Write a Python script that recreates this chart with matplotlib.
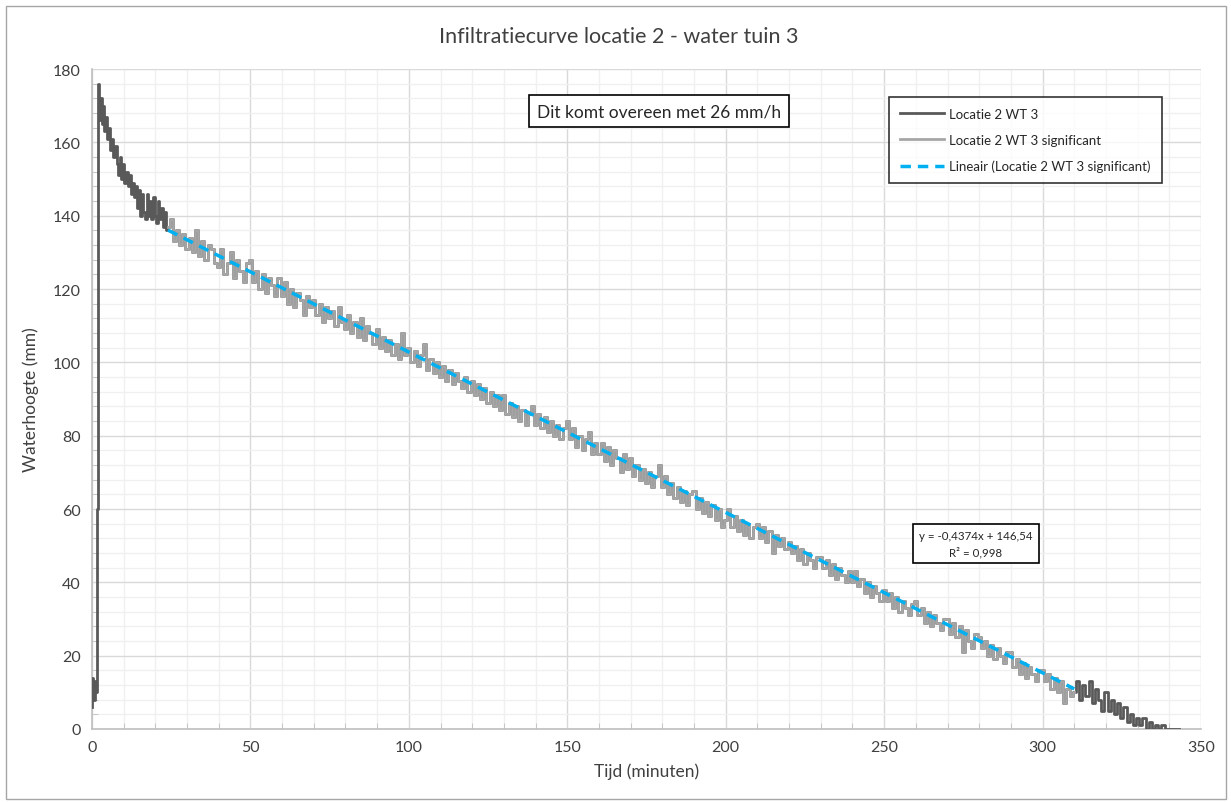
import numpy as np
import matplotlib.pyplot as plt
from matplotlib.patches import Rectangle

plt.rcParams['font.family'] = ['Lato', 'DejaVu Sans']

# --- data ---
# start of the measurement (dark series, before the significant part)
t_begin = [0, 0.3, 0.6, 1.0, 1.3, 1.6, 1.9, 2.2, 2.5, 2.8, 3.2, 3.6, 4.0, 4.5,
           5.0, 5.5, 6.0, 6.5, 7.0, 7.5, 8.0, 8.5, 9.0, 9.5, 10.0, 10.5, 11.0,
           11.5, 12.0, 12.5, 13.0, 13.5, 14.0, 14.5, 15.0, 15.5, 16.0, 16.5,
           17.0, 17.5, 18.0, 18.5, 19.0, 19.5, 20.0, 20.5, 21.0, 21.5, 22.0,
           22.5, 23.0, 23.5]
h_begin = [6, 14, 8, 13, 10, 60, 140, 176, 166, 172, 165, 170, 163, 167,
           161, 164, 158, 161, 156, 159, 154, 151, 156, 150, 154, 149, 152,
           148, 151, 146, 149, 145, 148, 142, 147, 140, 146, 141,
           139, 146, 140, 144, 139, 145, 140, 138, 144, 139, 142,
           137, 141, 136]

# significant part, one value per minute from 24 to 310
t_sig = list(range(24, 311))
h_sig = [137, 139, 133, 136, 132, 135,
         131, 134, 130, 136, 129, 133, 128, 132, 131, 127,
         126, 131, 124, 127, 130, 123, 128, 125, 122, 127,
         128, 122, 125, 120, 124, 119, 123, 121, 118, 123,
         118, 122, 116, 120, 115, 119, 117, 113, 118, 115,
         117, 113, 116, 111, 115, 112, 114, 110, 115, 111,
         109, 113, 108, 111, 107, 112, 106, 110, 108, 105,
         109, 104, 107, 103, 106, 102, 105, 101, 108, 102,
         104, 100, 103, 99, 102, 105, 98, 101, 97, 100,
         96, 99, 95, 98, 94, 97, 95, 93, 96, 92,
         95, 91, 94, 90, 93, 89, 92, 88, 91, 87,
         91, 86, 89, 85, 88, 84, 87, 83, 86, 88,
         83, 86, 82, 85, 81, 84, 80, 83, 79, 82,
         84, 79, 82, 77, 80, 76, 79, 81, 75, 78,
         75, 78, 73, 77, 72, 76, 74, 70, 75, 71,
         74, 69, 72, 68, 71, 67, 70, 66, 69, 72,
         66, 69, 64, 67, 63, 66, 62, 65, 61, 64,
         65, 60, 63, 59, 62, 58, 61, 57, 60, 55,
         57, 60, 55, 58, 54, 57, 53, 56, 52, 55,
         56, 52, 55, 51, 54, 48, 53, 50, 52, 49,
         51, 48, 50, 46, 49, 45, 48, 46, 44, 47,
         47, 44, 46, 42, 45, 41, 44, 42, 40, 43,
         40, 43, 39, 41, 37, 40, 36, 39, 37, 35,
         38, 35, 37, 33, 36, 32, 35, 33, 31, 34,
         35, 31, 33, 29, 32, 28, 31, 29, 27, 30,
         30, 26, 29, 25, 28, 21, 27, 24, 22, 26,
         25, 22, 24, 20, 23, 19, 22, 20, 18, 21,
         21, 17, 19, 15, 18, 14, 17, 15, 13, 16,
         16, 13, 15, 11, 14, 10, 13, 7, 11, 9, 10]

# tail of the measurement (dark series)
t_end = list(range(311, 344))
h_end = [13, 8, 12, 9, 13, 7, 11, 8, 5, 10, 5, 8, 4, 7, 3, 6, 2, 4, 1,
         3, 1, 3, 0, 2, 0, 1, 0, 1, 0, 0, 0, 0, 0]

# trend line (Excel linear fit on the significant part)
slope = -0.4374
intercept = 146.54
trend_x = [24, 310]

t_all = t_begin + t_sig + t_end
h_all = h_begin + h_sig + h_end

# --- figure ---
fig = plt.figure(figsize=(12.31, 8.03), dpi=100)
ax = fig.add_axes([92 / 1231, 73 / 803, 1109 / 1231, 660 / 803])

# outer chart border
fig.patches.append(Rectangle((6 / 1231, 3 / 803), 1220 / 1231, 793 / 803,
                             transform=fig.transFigure, fill=False,
                             edgecolor='#a6a6a6', linewidth=1))

ax.plot(t_all, h_all, color='#595959', linewidth=2, drawstyle='steps-mid',
        label='Locatie 2 WT 3', zorder=3)
ax.plot(t_sig, h_sig, color='#a6a6a6', linewidth=2, drawstyle='steps-mid',
        label='Locatie 2 WT 3 significant', zorder=4)
trend_y = [slope * x + intercept for x in trend_x]
ax.plot(trend_x, trend_y, color='#00b0f0', linewidth=2.5, dashes=(3, 2),
        label='Lineair (Locatie 2 WT 3 significant)', zorder=5)

ax.set_xlim(0, 350)
ax.set_ylim(0, 180)
ax.set_xticks(np.arange(0, 351, 50))
ax.set_yticks(np.arange(0, 181, 20))
ax.set_xticks(np.arange(0, 351, 10), minor=True)
ax.set_yticks(np.arange(0, 181, 4), minor=True)

ax.grid(which='major', color='#d9d9d9', linewidth=1)
ax.grid(which='minor', color='#f0f0f0', linewidth=1)
ax.set_axisbelow(True)

for s in ['top', 'right']:
    ax.spines[s].set_visible(False)
for s in ['left', 'bottom']:
    ax.spines[s].set_color('#bfbfbf')
    ax.spines[s].set_linewidth(1.2)

ax.tick_params(which='major', length=0, labelsize=11.5, colors='#404040', pad=8)
ax.tick_params(which='minor', direction='in', length=4, color='#bfbfbf')

ax.set_xlabel('Tijd (minuten)', fontsize=12.5, color='#404040', labelpad=6)
ax.set_ylabel('Waterhoogte (mm)', fontsize=12.5, color='#404040', labelpad=10)
fig.text(619 / 1231, 1 - 37 / 803, 'Infiltratiecurve locatie 2 - water tuin 3',
         fontsize=15.5, color='#404040', ha='center', va='center')

leg = ax.legend(loc='upper right', bbox_to_anchor=(0.9705, 0.968), fontsize=9.5,
                frameon=True, fancybox=False, edgecolor='black',
                handlelength=3.3, labelspacing=1.05, borderpad=0.85,
                handletextpad=0.4)
leg.get_frame().set_linewidth(1.2)
for txt in leg.get_texts():
    txt.set_color('#262626')

ax.text(179, 168.5, 'Dit komt overeen met 26 mm/h', fontsize=12.5,
        color='#262626', ha='center', va='center', zorder=6,
        bbox=dict(boxstyle='square,pad=0.45', facecolor='white',
                  edgecolor='black', linewidth=1.2))

ax.text(279, 50.5, 'y = -0,4374x + 146,54\nR² = 0,998', fontsize=8.3,
        color='#262626', ha='center', va='center', linespacing=1.5, zorder=6,
        bbox=dict(boxstyle='square,pad=0.5', facecolor='white',
                  edgecolor='black', linewidth=1.2))

fig.savefig('out.png', dpi=100)
